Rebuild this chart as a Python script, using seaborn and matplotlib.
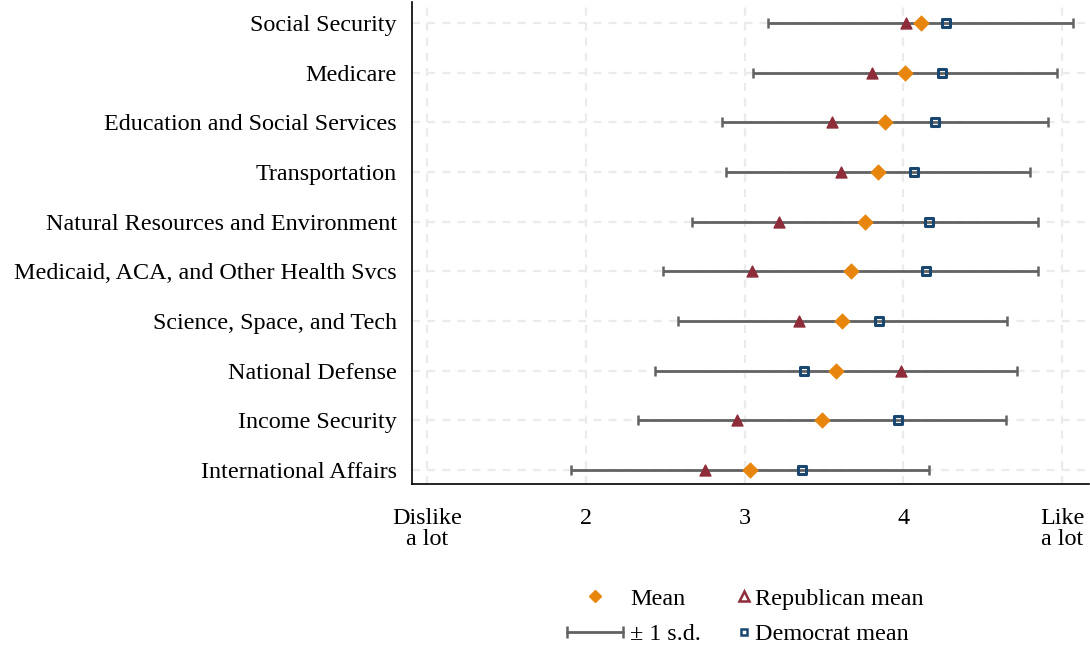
import numpy as np
import pandas as pd
import matplotlib
matplotlib.use("Agg")
import matplotlib.pyplot as plt
import seaborn as sns
from matplotlib.lines import Line2D
from matplotlib.legend_handler import HandlerLine2D

# Average feelings toward federal spending programs (1 = dislike a lot, 5 = like a lot)
programs = [
    "Social Security",
    "Medicare",
    "Education and Social Services",
    "Transportation",
    "Natural Resources and Environment",
    "Medicaid, ACA, and Other Health Svcs",
    "Science, Space, and Tech",
    "National Defense",
    "Income Security",
    "International Affairs",
]
mean = [4.110, 4.010, 3.885, 3.841, 3.757, 3.667, 3.616, 3.574, 3.488, 3.035]
sd = [0.961, 0.959, 1.026, 0.956, 1.090, 1.178, 1.034, 1.139, 1.158, 1.126]
rep_mean = [4.016, 3.800, 3.548, 3.607, 3.216, 3.048, 3.340, 3.983, 2.950, 2.749]
dem_mean = [4.268, 4.244, 4.200, 4.068, 4.159, 4.140, 3.846, 3.372, 3.965, 3.359]

tick_values = [1, 2, 3, 4, 5]
tick_labels = ["Dislike\na lot", "2", "3", "4", "Like\na lot"]

df = pd.DataFrame({
    "program": programs,
    "mean": mean,
    "sd": sd,
    "rep": rep_mean,
    "dem": dem_mean,
})
df["y"] = np.arange(len(df))

ORANGE = "#E8850C"
MAROON = "#8E2C3A"
NAVY = "#1A476F"
BAR_GRAY = "#626262"
GRID = "#EBEBEB"
FS = 17.4

sns.set_theme(style="white")
plt.rcParams["font.family"] = ["Liberation Serif", "DejaVu Serif"]
plt.rcParams["font.size"] = FS
plt.rcParams["text.color"] = "black"

fig = plt.figure(figsize=(10.9, 6.45), dpi=100)
ax = fig.add_axes([412 / 1090, 1 - 484 / 645, 677 / 1090, 482 / 645])

# Light dashed grid at each program row and each x tick
for yv in df["y"]:
    ax.axhline(yv, color=GRID, lw=1.6, ls=(0, (3.6, 3.2)), zorder=0)
for xv in tick_values:
    ax.axvline(xv, color=GRID, lw=1.6, ls=(0, (3.6, 3.2)), zorder=0)

# +/- 1 s.d. bars around the overall mean
ax.errorbar(df["mean"], df["y"], xerr=df["sd"], fmt="none",
            ecolor=BAR_GRAY, elinewidth=2.0, capsize=3.4, capthick=1.8, zorder=2)

sns.scatterplot(data=df, x="rep", y="y", ax=ax, marker="^", s=62,
                color=MAROON, edgecolor=MAROON, linewidth=1.0, zorder=3)
sns.scatterplot(data=df, x="mean", y="y", ax=ax, marker="D", s=62,
                color=ORANGE, edgecolor=ORANGE, linewidth=0.5, zorder=4)
sns.scatterplot(data=df, x="dem", y="y", ax=ax, marker="s", s=34,
                facecolor="none", edgecolor=NAVY, linewidth=2.2, zorder=3)

ax.set_xlim(1 - 15 / 158.8, 1 + 662 / 158.8)
ax.set_ylim(9 + 14 / 49.67, -21 / 49.67)
ax.set_xticks(tick_values)
ax.set_xticklabels(tick_labels, linespacing=1.05)
ax.set_yticks(df["y"])
ax.set_yticklabels(df["program"])
ax.set_xlabel("")
ax.set_ylabel("")

for side in ["top", "right"]:
    ax.spines[side].set_visible(False)
for side in ["left", "bottom"]:
    ax.spines[side].set_color("black")
    ax.spines[side].set_linewidth(1.2)
ax.tick_params(axis="both", which="major", direction="out", length=7, width=1.0,
               color="black", labelsize=FS, labelcolor="black")
ax.tick_params(axis="x", pad=10)
ax.tick_params(axis="y", pad=4)
ax.grid(False)

# Legend: overall mean and s.d. in one column, party means in the other
h_mean = Line2D([], [], ls="none", marker="D", ms=6.0, color=ORANGE)
h_sd = Line2D([], [], color=BAR_GRAY, lw=2.0, marker="|", ms=8, mew=1.8)
leg1 = fig.legend([h_mean, h_sd], ["Mean", "\u00b1 1 s.d."],
                  handler_map={h_sd: HandlerLine2D(numpoints=2, marker_pad=0)},
                  loc="upper left", bbox_to_anchor=(567 / 1090, 1 - 588 / 645),
                  frameon=False, fontsize=FS, handlelength=2.33, handletextpad=0.29,
                  labelspacing=0.55, borderpad=0, borderaxespad=0, labelcolor="black")

h_rep = Line2D([], [], ls="none", marker="^", ms=6.5, mfc="white", mec=MAROON, mew=1.8)
h_dem = Line2D([], [], ls="none", marker="s", ms=5, mfc="white", mec=NAVY, mew=1.8)
leg2 = fig.legend([h_rep, h_dem], ["Republican mean", "Democrat mean"],
                  loc="upper left", bbox_to_anchor=(738 / 1090, 1 - 588 / 645),
                  frameon=False, fontsize=FS, handlelength=0.5, handletextpad=0.2,
                  labelspacing=0.55, borderpad=0, borderaxespad=0, labelcolor="black")

fig.savefig("out.png", dpi=100)
